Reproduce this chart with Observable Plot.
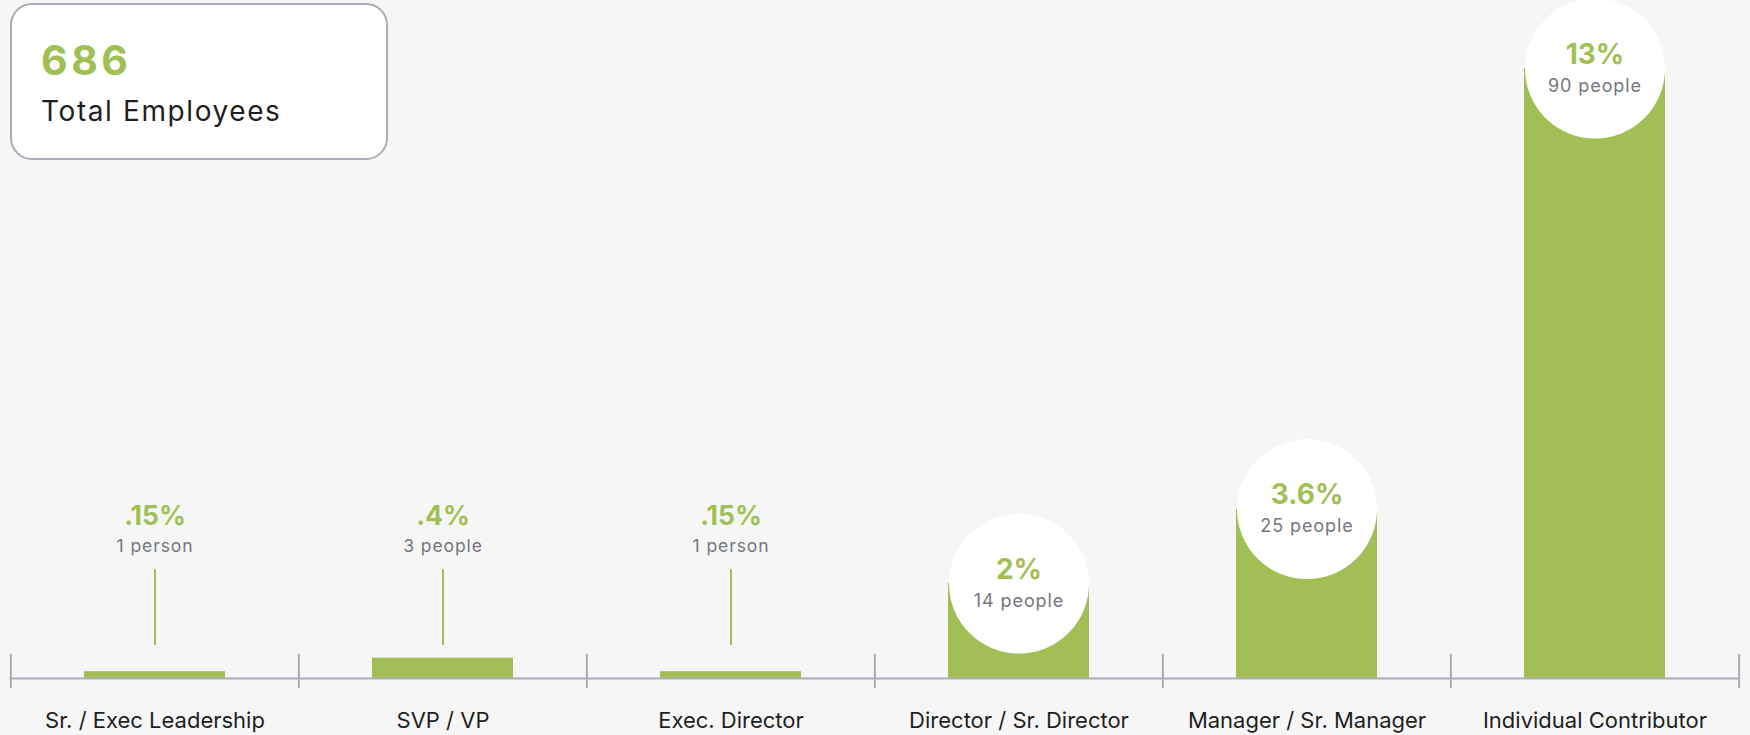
<!DOCTYPE html>
<html>
<head>
<meta charset="utf-8">
<script src="https://cdn.jsdelivr.net/npm/d3@7"></script>
<script src="https://cdn.jsdelivr.net/npm/@observablehq/plot@0.6"></script>
<style>
  html, body { margin: 0; padding: 0; background: #f6f6f6; }
  #wrap { position: relative; width: 1750px; height: 735px; font-family: Inter, "Open Sans", sans-serif; }
  #box { position: absolute; left: 10px; top: 3px; width: 374px; height: 153px; background: #fff;
         border: 2px solid #a9acb7; border-radius: 22px; }
  #total { position: absolute; left: 29px; top: 34.6px; font-size: 41px; font-weight: 700; color: #a1bf54; line-height: 1; letter-spacing: 3.5px; }
  #totalLabel { position: absolute; left: 29px; top: 92px; font-size: 28px; color: #1f1f1f; line-height: 1; letter-spacing: 1.6px; }
  svg { position: absolute; left: 0; top: 0; }
</style>
</head>
<body>
<div id="wrap">
  <div id="chart"></div>
  <div id="box"><div id="total"></div><div id="totalLabel"></div></div>
</div>
<script>
const categories = ["Sr. / Exec Leadership", "SVP / VP", "Exec. Director", "Director / Sr. Director", "Manager / Sr. Manager", "Individual Contributor"];
const people = [1, 3, 1, 14, 25, 90];
const percentLabels = [".15%", ".4%", ".15%", "2%", "3.6%", "13%"];
const peopleLabels = ["1 person", "3 people", "1 person", "14 people", "25 people", "90 people"];
const totalEmployees = 686;
const totalLabel = "Total Employees";

const green = "#a1bf54";
const grayText = "#76767e";
const axisGray = "#a9adb8";

const rows = categories.map((c, i) => ({category: c, people: people[i], pct: percentLabels[i], ppl: peopleLabels[i]}));
const big = rows.filter(d => d.people >= 10);
const small = rows.filter(d => d.people < 10);

const width = 1750, height = 735;
const ml = 9.3, mr = 11.5;
const step = (width - ml - mr) / categories.length;

document.getElementById("total").textContent = totalEmployees;
document.getElementById("totalLabel").textContent = totalLabel;

const chart = Plot.plot({
  width, height,
  marginLeft: ml, marginRight: mr, marginTop: 68, marginBottom: 57,
  style: {background: "transparent", fontFamily: "Inter, 'Open Sans', sans-serif"},
  x: {domain: categories, paddingInner: 0.512, paddingOuter: 0.256, axis: null},
  y: {domain: [0, 90], axis: null},
  marks: [
    Plot.barY(rows, {x: "category", y: "people", fill: green}),
    Plot.dot(big, {x: "category", y: "people", r: 70, fill: "#ffffff", stroke: null}),
    Plot.text(big, {x: "category", y: "people", text: "pct", fill: green, fontSize: 28, fontWeight: 700, lineAnchor: "bottom", dy: -5}),
    Plot.text(big, {x: "category", y: "people", text: "ppl", fill: grayText, fontSize: 18, lineAnchor: "bottom", dy: 23, style: "letter-spacing: 0.8px"}),
    Plot.text(small, {x: "category", y: 0, text: "pct", fill: green, fontSize: 26.5, fontWeight: 700, lineAnchor: "bottom", dy: -153.5}),
    Plot.text(small, {x: "category", y: 0, text: "ppl", fill: grayText, fontSize: 17.5, lineAnchor: "bottom", dy: -126.3}),
    Plot.ruleX(small, {x: "category", y1: 0, y2: 0, insetTop: -108.7, insetBottom: 33, stroke: green, strokeWidth: 2}),
    Plot.ruleY([0], {stroke: axisGray, strokeWidth: 2}),
    Plot.ruleX(categories, {x: d => d, y1: 0, y2: 0, insetTop: -24, insetBottom: -10, dx: -step / 2, stroke: axisGray, strokeWidth: 2}),
    Plot.ruleX(categories.slice(-1), {x: d => d, y1: 0, y2: 0, insetTop: -24, insetBottom: -10, dx: step / 2, stroke: axisGray, strokeWidth: 2}),
    Plot.text(categories, {x: d => d, y: 0, text: d => d, fill: "#1f1f1f", fontSize: 22, lineAnchor: "bottom", dy: 49.7})
  ]
});
chart.querySelectorAll("text").forEach(t => {
  if (t.getAttribute("fill") === grayText || (t.parentNode && t.parentNode.getAttribute("fill") === grayText)) {
    t.style.letterSpacing = "0.9px";
  }
});
document.getElementById("chart").appendChild(chart);
</script>
</body>
</html>
